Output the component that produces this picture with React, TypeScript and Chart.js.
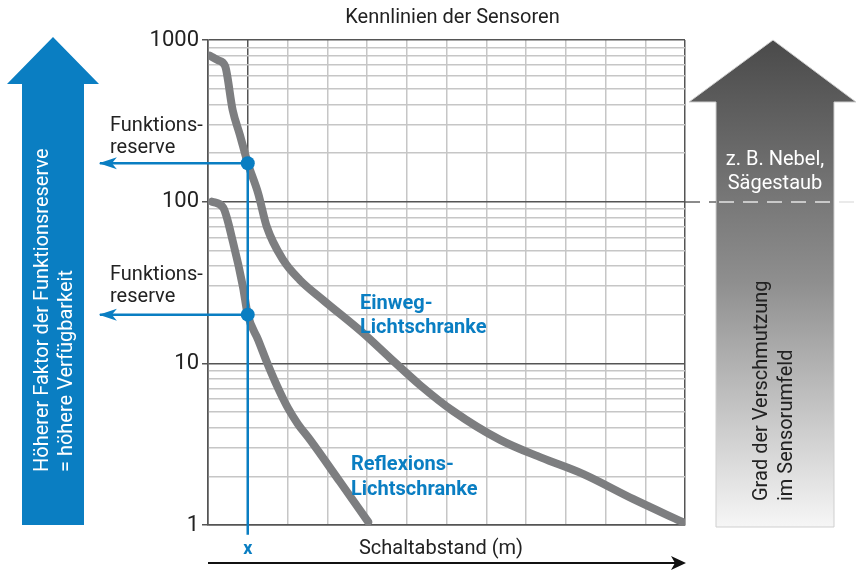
import React, { useEffect, useRef } from "react";
import { Chart, registerables } from "chart.js";

Chart.register(...registerables);

// ---- data ----
const einwegX = [0.05, 0.25, 0.43, 0.62, 0.8, 1.0, 1.26, 1.48, 1.89, 2.31, 2.89, 3.9, 4.58, 5.33, 6.16, 7.35, 8.4, 9.43, 10.69, 11.95];
const einwegY = [800, 750, 690, 369, 260, 173, 113, 69.8, 43.6, 32.8, 24.7, 15.4, 10.8, 7.35, 5.08, 3.36, 2.6, 2.07, 1.45, 1.04];
const reflexX = [0.1, 0.38, 0.63, 0.88, 1.0, 1.26, 1.51, 1.76, 2.01, 2.26, 2.57, 3.32, 4.03];
const reflexY = [100, 92, 56, 29.7, 20, 14.0, 9.77, 7.05, 5.3, 4.22, 3.36, 1.85, 1.045];
const reserveX = [1, 1];
const reserveY = [173, 20];
const yTickLabels = [1, 10, 100, 1000];
const decades = [1, 10, 100];
const xRange = [0, 12];
const yRange = [1, 1000];
const arrowEndX = -2.72; // where the reserve arrows end (left of the axis)
const markerFloorY = 0.87; // bottom end of the blue x marker line
const nebelLevel = 100;

const BLUE = "#0a7ec2";
const GRAY = "#7d7e80";
const TEXT = "#222222";
const FONT = "Roboto, 'Liberation Sans', sans-serif";

const toPts = (xs: number[], ys: number[]) => xs.map((x, i) => ({ x, y: ys[i] }));
const isMajor = (v: number) => yTickLabels.includes(v);

const decorPlugin = {
  id: "decor",
  beforeDraw(chart: any) {
    const { ctx, chartArea, scales } = chart;
    ctx.save();
    // left big blue arrow
    ctx.fillStyle = BLUE;
    ctx.beginPath();
    ctx.moveTo(53, 37);
    ctx.lineTo(99, 84);
    ctx.lineTo(84, 84);
    ctx.lineTo(84, 525);
    ctx.lineTo(22, 525);
    ctx.lineTo(22, 84);
    ctx.lineTo(7, 84);
    ctx.closePath();
    ctx.fill();
    // right grey gradient arrow
    const g = ctx.createLinearGradient(0, 40, 0, 527);
    g.addColorStop(0, "#4a4a4a");
    g.addColorStop(0.5, "#8f8f8f");
    g.addColorStop(1, "#f6f6f6");
    ctx.fillStyle = g;
    ctx.beginPath();
    ctx.moveTo(773, 40);
    ctx.lineTo(856, 102);
    ctx.lineTo(834, 102);
    ctx.lineTo(834, 527);
    ctx.lineTo(716, 527);
    ctx.lineTo(716, 102);
    ctx.lineTo(689, 102);
    ctx.closePath();
    ctx.fill();
    ctx.strokeStyle = "#cfcfcf";
    ctx.lineWidth = 1;
    ctx.stroke();
    // dashed 100 line to the right
    const y100 = Math.round(scales.y.getPixelForValue(nebelLevel));
    ctx.setLineDash([15, 9]);
    ctx.lineWidth = 1.5;
    ctx.strokeStyle = "#666";
    ctx.beginPath();
    ctx.moveTo(chartArea.right, y100);
    ctx.lineTo(716, y100);
    ctx.stroke();
    ctx.strokeStyle = "#e4e4e4";
    ctx.beginPath();
    ctx.moveTo(716 + 3, y100);
    ctx.lineTo(856, y100);
    ctx.stroke();
    ctx.setLineDash([]);
    // texts in arrows
    ctx.font = `20px ${FONT}`;
    ctx.fillStyle = "#ffffff";
    ctx.textBaseline = "middle";
    ctx.save();
    ctx.translate(43, 472);
    ctx.rotate(-Math.PI / 2);
    ctx.textAlign = "left";
    ctx.fillText("Höherer Faktor der Funktionsreserve", 0, 0);
    ctx.fillText("= höhere Verfügbarkeit", 0, 24);
    ctx.restore();
    ctx.textAlign = "center";
    ctx.fillText("z. B. Nebel,", 775, 160);
    ctx.fillText("Sägestaub", 775, 184);
    ctx.fillStyle = TEXT;
    ctx.save();
    ctx.translate(762, 501);
    ctx.rotate(-Math.PI / 2);
    ctx.textAlign = "left";
    ctx.fillText("Grad der Verschmutzung", 0, 0);
    ctx.fillText("im Sensorumfeld", 0, 25);
    ctx.restore();
    ctx.restore();
  },
  afterDraw(chart: any) {
    const { ctx, chartArea, scales } = chart;
    ctx.save();
    ctx.textBaseline = "middle";
    // title
    ctx.font = `20px ${FONT}`;
    ctx.fillStyle = TEXT;
    ctx.textAlign = "center";
    ctx.fillText("Kennlinien der Sensoren", (chartArea.left + chartArea.right) / 2 + 6, 18);
    // x label
    ctx.fillText("Schaltabstand (m)", 441, 549);
    // bottom arrow
    ctx.strokeStyle = "#111";
    ctx.fillStyle = "#111";
    ctx.lineWidth = 2;
    ctx.beginPath();
    ctx.moveTo(chartArea.left, 563);
    ctx.lineTo(chartArea.right - 8, 563);
    ctx.stroke();
    ctx.beginPath();
    ctx.moveTo(chartArea.right + 1, 563);
    ctx.lineTo(chartArea.right - 14, 556);
    ctx.lineTo(chartArea.right - 10, 563);
    ctx.lineTo(chartArea.right - 14, 570);
    ctx.closePath();
    ctx.fill();
    // Funktionsreserve labels
    ctx.textAlign = "left";
    ctx.fillStyle = TEXT;
    ctx.fillText("Funktions-", 110, 126);
    ctx.fillText("reserve", 110, 148);
    ctx.fillText("Funktions-", 110, 275);
    ctx.fillText("reserve", 110, 297);
    // reserve arrowheads
    ctx.fillStyle = BLUE;
    reserveY.forEach((v) => {
      const y = scales.y.getPixelForValue(v);
      const x = scales.x.getPixelForValue(arrowEndX);
      ctx.beginPath();
      ctx.moveTo(x - 1, y);
      ctx.lineTo(x + 17, y - 6);
      ctx.lineTo(x + 12, y);
      ctx.lineTo(x + 17, y + 6);
      ctx.closePath();
      ctx.fill();
    });
    // x marker label
    ctx.textAlign = "center";
    ctx.font = `bold 18px ${FONT}`;
    ctx.fillText("x", scales.x.getPixelForValue(reserveX[0]), 549);
    // curve labels
    ctx.font = `bold 20px ${FONT}`;
    ctx.textAlign = "left";
    ctx.fillText("Einweg-", 360, 304);
    ctx.fillText("Lichtschranke", 360, 328);
    ctx.fillText("Reflexions-", 351, 465);
    ctx.fillText("Lichtschranke", 351, 490);
    ctx.restore();
  },
};

export default function App() {
  const ref = useRef<HTMLCanvasElement | null>(null);
  useEffect(() => {
    if (!ref.current) return;
    const curveStyle = {
      borderColor: GRAY,
      borderWidth: 8,
      borderCapStyle: "round" as const,
      borderJoinStyle: "round" as const,
      pointRadius: 0,
      cubicInterpolationMode: "monotone" as const,
      fill: false,
      order: 3,
    };
    const chart = new Chart(ref.current, {
      type: "line",
      data: {
        datasets: [
          { label: "Einweg-Lichtschranke", data: toPts(einwegX, einwegY), ...curveStyle },
          { label: "Reflexions-Lichtschranke", data: toPts(reflexX, reflexY), ...curveStyle },
          {
            label: "marker",
            data: [{ x: reserveX[0], y: reserveY[0] }, { x: reserveX[0], y: markerFloorY }],
            borderColor: BLUE, borderWidth: 2.5, pointRadius: 0, clip: false as any, order: 2,
          },
          {
            label: "reserve1",
            data: [{ x: reserveX[0], y: reserveY[0] }, { x: arrowEndX, y: reserveY[0] }],
            borderColor: BLUE, borderWidth: 2.5, pointRadius: 0, clip: false as any, order: 2,
          },
          {
            label: "reserve2",
            data: [{ x: reserveX[1], y: reserveY[1] }, { x: arrowEndX, y: reserveY[1] }],
            borderColor: BLUE, borderWidth: 2.5, pointRadius: 0, clip: false as any, order: 2,
          },
          {
            label: "points",
            data: toPts(reserveX, reserveY),
            showLine: false,
            pointRadius: 7,
            pointBackgroundColor: BLUE,
            pointBorderWidth: 0,
            borderColor: BLUE,
            clip: false as any,
            order: 1,
          },
        ],
      },
      options: {
        responsive: false,
        animation: false,
        layout: { padding: { top: 40, right: 171, left: 0, bottom: 0 } },
        plugins: { legend: { display: false }, tooltip: { enabled: false }, title: { display: false } },
        scales: {
          x: {
            type: "linear",
            min: xRange[0],
            max: xRange[1],
            afterFit: (s: any) => { s.height = 46; },
            ticks: { display: false, stepSize: 1 },
            grid: {
              color: (c: any) => (c.tick && (c.tick.value === 1 || c.tick.value === xRange[0] || c.tick.value === xRange[1]) ? "#555" : "#c6c6c6"),
              lineWidth: 1.5,
              drawTicks: false,
            },
            border: { color: "#555", width: 1.5 },
          },
          y: {
            type: "logarithmic",
            min: yRange[0],
            max: yRange[1],
            afterFit: (s: any) => { s.width = 208; },
            afterBuildTicks: (s: any) => {
              const t: any[] = [];
              decades.forEach((d) => { for (let m = 1; m <= 9; m++) t.push({ value: m * d }); });
              t.push({ value: yRange[1] });
              s.ticks = t;
            },
            ticks: {
              autoSkip: false,
              padding: 3,
              color: TEXT,
              font: { size: 22, family: FONT },
              callback: (v: any) => (isMajor(Number(v)) ? String(v) : ""),
            },
            grid: {
              color: (c: any) => (c.tick && isMajor(c.tick.value) ? "#555" : "#c6c6c6"),
              tickColor: (c: any) => (c.tick && isMajor(c.tick.value) ? "#555" : "rgba(0,0,0,0)"),
              lineWidth: 1.5,
              tickLength: 6,
            },
            border: { color: "#555", width: 1.5 },
          },
        },
      },
      plugins: [decorPlugin],
    });
    return () => chart.destroy();
  }, []);
  return (
    <div style={{ position: "fixed", left: 0, top: 0, width: 856, height: 571, background: "#fff" }}>
      <canvas ref={ref} width={856} height={571} />
    </div>
  );
}
